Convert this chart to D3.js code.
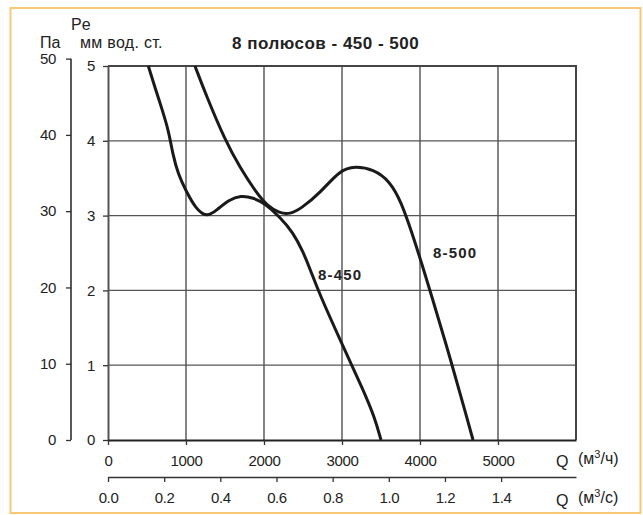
<!DOCTYPE html>
<html>
<head>
<meta charset="utf-8">
<script src="https://cdn.jsdelivr.net/npm/d3@7"></script>
<style>
  body { margin: 0; background: #fff; }
  svg text { font-family: "Liberation Sans", Arial, sans-serif; fill: #222; }
</style>
</head>
<body>
<svg id="chart" width="643" height="515"></svg>
<script>
// Fan curves: pressure (mm w.g.) vs flow (m3/h)
const flowTicks = [0, 1000, 2000, 3000, 4000, 5000];
const flowSecTicks = [0, 0.2, 0.4, 0.6, 0.8, 1.0, 1.2, 1.4];
const peTicks = [0, 1, 2, 3, 4, 5];
const paTicks = [0, 10, 20, 30, 40, 50];

const curve450 = [
  [517, 5.0], [600, 4.72], [700, 4.4], [780, 4.12], [830, 3.82], [900, 3.55],
  [1000, 3.33], [1120, 3.1], [1265, 2.97], [1400, 3.08], [1550, 3.21], [1700, 3.27],
  [1863, 3.24], [2013, 3.16], [2205, 2.98], [2376, 2.77], [2500, 2.52], [2600, 2.26],
  [2700, 1.98], [2996, 1.29], [3273, 0.67], [3420, 0.3], [3500, 0]
];
const curve500 = [
  [1115, 5.0], [1265, 4.59], [1500, 4.01], [1692, 3.64], [1906, 3.30], [2035, 3.14],
  [2200, 3.03], [2333, 3.02], [2470, 3.09], [2718, 3.30], [2974, 3.61], [3167, 3.66],
  [3401, 3.62], [3615, 3.46], [3760, 3.18], [3900, 2.76], [4022, 2.36],
  [4128, 2.0], [4406, 1.03], [4600, 0.3], [4680, 0]
];

const svg = d3.select("#chart");

// frame
svg.append("rect")
  .attr("x", 10.5).attr("y", 8)
  .attr("width", 630).attr("height", 505)
  .attr("fill", "#fff")
  .attr("stroke", "#f8c777")
  .attr("stroke-width", 2);

// scales
const x = d3.scaleLinear().domain([0, 6000]).range([108, 576]);
const xs = d3.scaleLinear().domain([0, 6000 / 3600]).range([108, 576]);
const y = d3.scaleLinear().domain([0, 5]).range([440, 66]);
const yPa = d3.scaleLinear().domain([0, 5 * 9.80665]).range([440, 66]);

// grid
const grid = svg.append("g");
grid.selectAll(".vg")
  .data([1000, 2000, 3000, 4000, 5000])
  .join("line")
    .attr("x1", d => x(d)).attr("x2", d => x(d))
    .attr("y1", y(5)).attr("y2", y(0))
    .attr("stroke", "#333").attr("stroke-width", 1.2);
grid.selectAll(".hg")
  .data([1, 2, 3, 4])
  .join("line")
    .attr("x1", x(0)).attr("x2", x(6000))
    .attr("y1", d => y(d)).attr("y2", d => y(d))
    .attr("stroke", "#555").attr("stroke-width", 1.2);
// top + right frame lines
grid.append("path")
  .attr("d", `M${x(0)},${y(5)}H${x(6000)}V${y(0)}`)
  .attr("fill", "none").attr("stroke", "#444").attr("stroke-width", 2);

function styleAxis(g, size) {
  g.selectAll("text").style("font-size", size + "px").attr("fill", "#222").style("letter-spacing", "-0.4px");
  g.selectAll("line").attr("stroke", "#333").attr("stroke-width", 1.3);
  g.select(".domain").attr("stroke", "#333");
}

// left plot axis (mm)
const yAxisG = svg.append("g")
  .attr("transform", `translate(${x(0)},0)`)
  .call(d3.axisLeft(y).tickValues(peTicks).tickFormat(d3.format("d"))
    .tickSize(5).tickSizeOuter(0).tickPadding(8));
styleAxis(yAxisG, 15);
yAxisG.select(".domain").attr("stroke", "#555").attr("stroke-width", 2);

// Pa axis
const paG = svg.append("g")
  .attr("transform", "translate(71,0)")
  .call(d3.axisLeft(yPa).tickValues(paTicks).tickFormat(d3.format("d"))
    .tickSize(5).tickSizeOuter(0).tickPadding(10));
styleAxis(paG, 15);
paG.select(".domain").remove();
paG.append("line")
  .attr("x1", 0).attr("x2", 0)
  .attr("y1", yPa(0)).attr("y2", yPa(50))
  .attr("stroke", "#222").attr("stroke-width", 1.5);

// bottom axis (m3/h)
const xAxisG = svg.append("g")
  .attr("transform", `translate(0,${y(0)})`)
  .call(d3.axisBottom(x).tickValues(flowTicks).tickFormat(d3.format("d"))
    .tickSize(5).tickSizeOuter(0).tickPadding(10));
styleAxis(xAxisG, 15);
xAxisG.select(".domain").attr("stroke", "#222").attr("stroke-width", 2);

// second bottom axis (m3/s)
const xsAxisG = svg.append("g")
  .attr("transform", "translate(0,477)")
  .call(d3.axisBottom(xs).tickValues(flowSecTicks).tickFormat(d3.format(".1f"))
    .tickSize(5).tickSizeOuter(0).tickPadding(10));
styleAxis(xsAxisG, 15);
xsAxisG.select(".domain").attr("stroke", "#333").attr("stroke-width", 1.5);

// curves
const line = d3.line()
  .x(d => x(d[0]))
  .y(d => y(d[1]))
  .curve(d3.curveBasis);

svg.selectAll(".curve")
  .data([curve450, curve500])
  .join("path")
    .attr("class", "curve")
    .attr("d", line)
    .attr("fill", "none")
    .attr("stroke", "#1a1a1a")
    .attr("stroke-width", 3)
    .attr("stroke-linejoin", "round");

// curve labels
svg.append("text").attr("x", 318).attr("y", 280)
  .style("font-size", "15px").style("font-weight", "bold").style("letter-spacing", "1.2px")
  .text("8-450");
svg.append("text").attr("x", 433).attr("y", 258)
  .style("font-size", "15px").style("font-weight", "bold").style("letter-spacing", "1.2px")
  .text("8-500");

// titles & unit labels
svg.append("text").attr("x", 232).attr("y", 49)
  .style("font-size", "17px").style("font-weight", "bold").style("letter-spacing", "0.5px")
  .text("8 полюсов - 450 - 500");
svg.append("text").attr("x", 71).attr("y", 30).style("font-size", "16px").text("Pe");
svg.append("text").attr("x", 40).attr("y", 48).style("font-size", "16px").text("Па");
svg.append("text").attr("x", 80).attr("y", 48).style("font-size", "16px").style("letter-spacing", "0.3px").text("мм вод. ст.");

function qLabel(yBase, unit) {
  svg.append("text").attr("x", 556).attr("y", yBase).style("font-size", "16px").text("Q");
  const t = svg.append("text").attr("x", 578).attr("y", yBase - 3).style("font-size", "16px");
  t.append("tspan").text("(м");
  t.append("tspan").attr("dy", -6).style("font-size", "11px").text("3");
  t.append("tspan").attr("dy", 6).text("/" + unit + ")");
}
qLabel(467, "ч");
qLabel(506, "с");
</script>
</body>
</html>
